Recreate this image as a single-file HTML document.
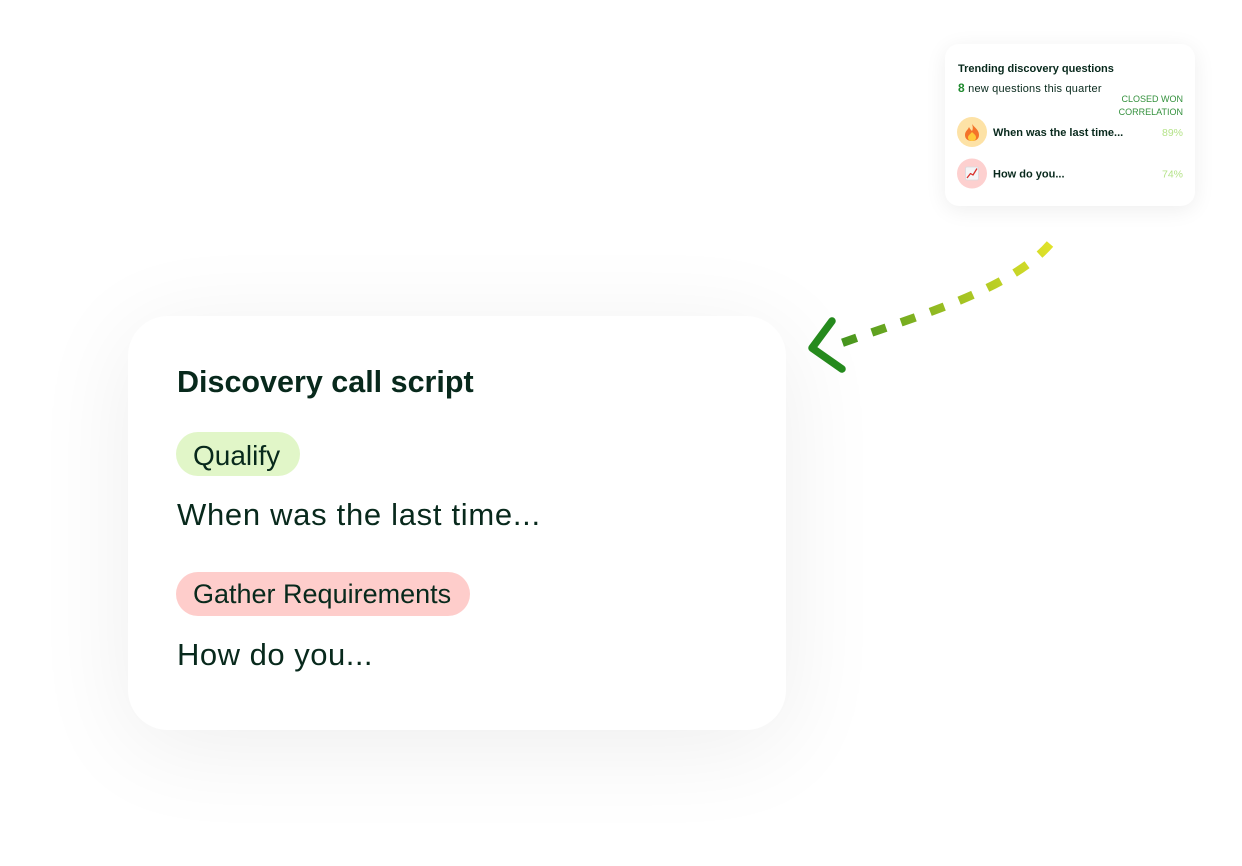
<!DOCTYPE html>
<html>
<head>
<meta charset="utf-8">
<style>
  html, body { margin:0; padding:0; background:#ffffff; }
  body { width:1242px; height:866px; position:relative; overflow:hidden; font-family:"Liberation Sans", sans-serif; }
  .main { position:absolute; left:128px; top:316px; width:658px; height:414px; background:#fff; border-radius:40px;
          box-shadow: 0 16px 100px rgba(0,0,0,0.07); }
  .small { position:absolute; left:945px; top:44px; width:250px; height:162px; background:#fff; border-radius:14px;
           box-shadow: 0 4px 22px rgba(0,0,0,0.07); }
  svg { position:absolute; left:0; top:0; }
</style>
</head>
<body>
<div class="main"></div>
<div class="small"></div>
<svg width="1242" height="866" viewBox="0 0 1242 866" xmlns="http://www.w3.org/2000/svg">
  <defs>
    <linearGradient id="ag" gradientUnits="userSpaceOnUse" x1="1050" y1="244" x2="836" y2="346">
      <stop offset="0" stop-color="#e0e22a"/>
      <stop offset="0.5" stop-color="#9cbf22"/>
      <stop offset="1" stop-color="#3f921e"/>
    </linearGradient>
  </defs>

  <!-- main card text -->
  <g font-family="Liberation Sans, sans-serif" fill="#08291c">
    <text x="177" y="392" font-size="30.5" font-weight="bold">Discovery call script</text>
    <rect x="176" y="432" width="124" height="44" rx="22" fill="#e1f6c8"/>
    <text x="193" y="465" font-size="28">Qualify</text>
    <text x="177" y="525" font-size="31" letter-spacing="0.7">When was the last time...</text>
    <rect x="176" y="572" width="294" height="44" rx="22" fill="#fecdcb"/>
    <text x="193" y="603" font-size="27">Gather Requirements</text>
    <text x="177" y="665" font-size="31" letter-spacing="0.5">How do you...</text>
  </g>

  <!-- small card text -->
  <g font-family="Liberation Sans, sans-serif" fill="#08291c">
    <text x="958" y="72" font-size="11" font-weight="bold">Trending discovery questions</text>
    <text x="958" y="92" font-size="11" letter-spacing="0.2"><tspan font-weight="bold" fill="#1f8a2e" font-size="12">8</tspan> new questions this quarter</text>
    <text x="1183" y="102" font-size="9" fill="#34913d" text-anchor="end">CLOSED WON</text>
    <text x="1183" y="115" font-size="9" fill="#34913d" text-anchor="end">CORRELATION</text>

    <circle cx="972" cy="132" r="15" fill="#fde2a6"/>
    <text x="993" y="136" font-size="11" font-weight="bold">When was the last time...</text>
    <text x="1183" y="136" font-size="10.5" fill="#b5e389" text-anchor="end">89%</text>

    <circle cx="972" cy="173.5" r="15" fill="#fdd0cf"/>
    <text x="993" y="177.5" font-size="11" font-weight="bold">How do you...</text>
    <text x="1183" y="177.5" font-size="10.5" fill="#b5e389" text-anchor="end">74%</text>
  </g>

  <!-- fire icon -->
  <path d="M972,124 C975,128 979,130 979,135 C979,139 976,141 972,141 C968,141 965,139 965,135 C965,131 968,130 969,127 C970,129 971,130 972,131 C973,129 973,127 972,124 Z" fill="#f4732a"/>
  <path d="M972,132 C974,134 976,135 976,137.5 C976,140 974,141 972,141 C970,141 968,140 968,137.5 C968,135.5 970,134.5 972,132 Z" fill="#ffc93a"/>

  <!-- chart icon -->
  <rect x="965.5" y="167" width="13" height="13" rx="1.5" fill="#f4f4f6" stroke="#d9d9de" stroke-width="0.8"/>
  <polyline points="967,178 970.5,173.5 973,175 977,168.5" fill="none" stroke="#d9302c" stroke-width="1.3" stroke-linejoin="round"/>

  <!-- arrow -->
  <path d="M1050,244 C1010,290 920,315 836,345" fill="none" stroke="url(#ag)" stroke-width="8.5" stroke-dasharray="15 16"/>
  <polyline points="832,321 812,348 842,369" fill="none" stroke="#258a1d" stroke-width="7.5" stroke-linecap="round" stroke-linejoin="round"/>
</svg>
</body>
</html>
